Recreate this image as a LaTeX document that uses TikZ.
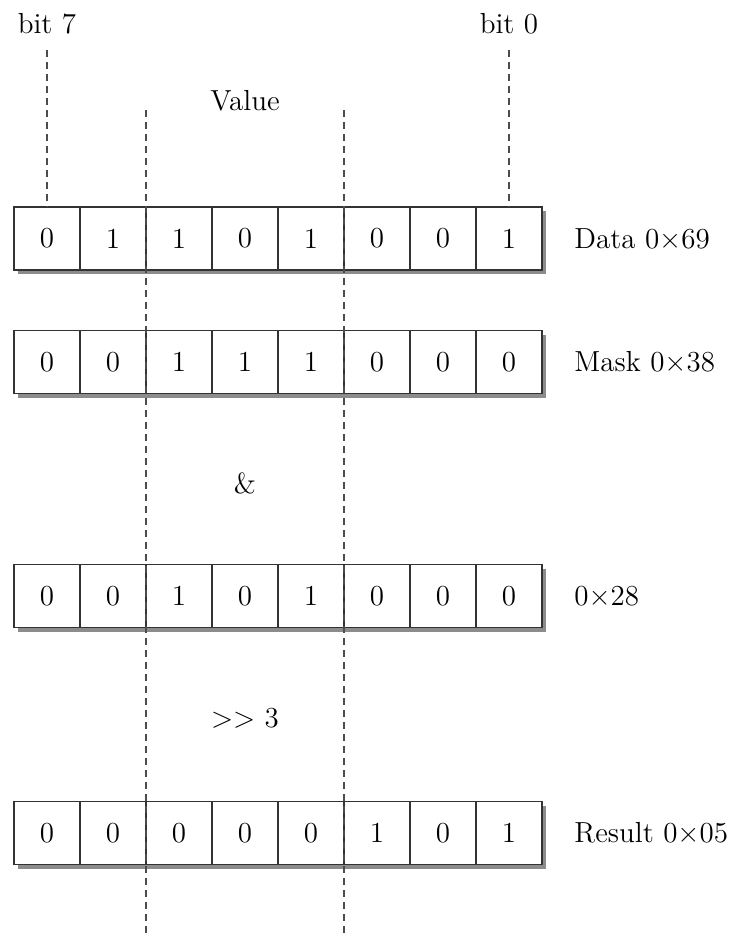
\documentclass[tikz,border=0pt]{standalone}
\usepackage{fontspec}
\usetikzlibrary{positioning, calc, backgrounds}
\tikzset{
  bit/.style = {draw = black!80, line width = 0.7pt, fill = white,
    inner sep = 0pt, outer sep = 0pt, minimum width = 33pt, minimum height = 31.5pt},
  shade/.style = {fill = black!45},                % drop shadow of a row
  tag/.style = {inner sep = 0pt},
  note/.style = {inner sep = 1pt},
  guide/.style = {draw = black!70, line width = 0.7pt, dash pattern = on 3.5pt off 2.5pt}
}
\def \firstx {23.5pt}

\begin{document}
\begin{tikzpicture}[font = \fontsize{14.5}{17}\selectfont]
\useasboundingbox (0,0) rectangle (366.5pt,-466.5pt);

%% Rows of bits
\foreach \bits/\ypos/\name [count = \r] in {
    {0,1,1,0,1,0,0,1}/-119.25pt/Data 0×69,
    {0,0,1,1,1,0,0,0}/-181pt/Mask 0×38,
    {0,0,1,0,1,0,0,0}/-298pt/0×28,
    {0,0,0,0,0,1,0,1}/-416.5pt/Result 0×05} {
  \foreach \b [count = \c, remember = \c as \lastc (initially 0)] in \bits {
    \ifnum \c = 1
      \node [bit] (cell\r-\c) at (\firstx, \ypos) {\b};
    \else
      \node [bit] (cell\r-\c) [right = 0pt of cell\r-\lastc] {\b};
    \fi
  }
  \node [tag] (lbl\r) [right = 16pt of cell\r-8] {\name};

  %% Shadow
  \begin{scope}[on background layer]
    \fill [shade] ($(cell\r-1.north west) + (2pt,-2pt)$)
      rectangle ($(cell\r-8.south east) + (2pt,-2pt)$);
  \end{scope}
}

%% Bit markers
\node [note] (bit7) at (\firstx, -12pt) {bit 7};
\node [note] (bit0) at (254.5pt, -12pt) {bit 0};
\coordinate (bit7top) at (\firstx, -25pt);
\coordinate (bit0top) at (254.5pt, -25pt);
\draw [guide] (bit7top) -- (cell1-1.north);
\draw [guide] (bit0top) -- (cell1-8.north);

%% Value field
\node [note] (value) at (122.5pt, -50.5pt) {Value};
\coordinate (lefttop) at (73pt, -55pt);
\coordinate (leftbot) at (73pt, -466.5pt);
\coordinate (righttop) at (172pt, -55pt);
\coordinate (rightbot) at (172pt, -466.5pt);
\draw [guide] (lefttop) -- (leftbot);
\draw [guide] (righttop) -- (rightbot);

%% Operations
\node [note] (andop) at (122.5pt, -241.5pt) {\&};
\node [note] (shiftop) at (122.5pt, -359pt) {>{}> 3};

\end{tikzpicture}
\end{document}
